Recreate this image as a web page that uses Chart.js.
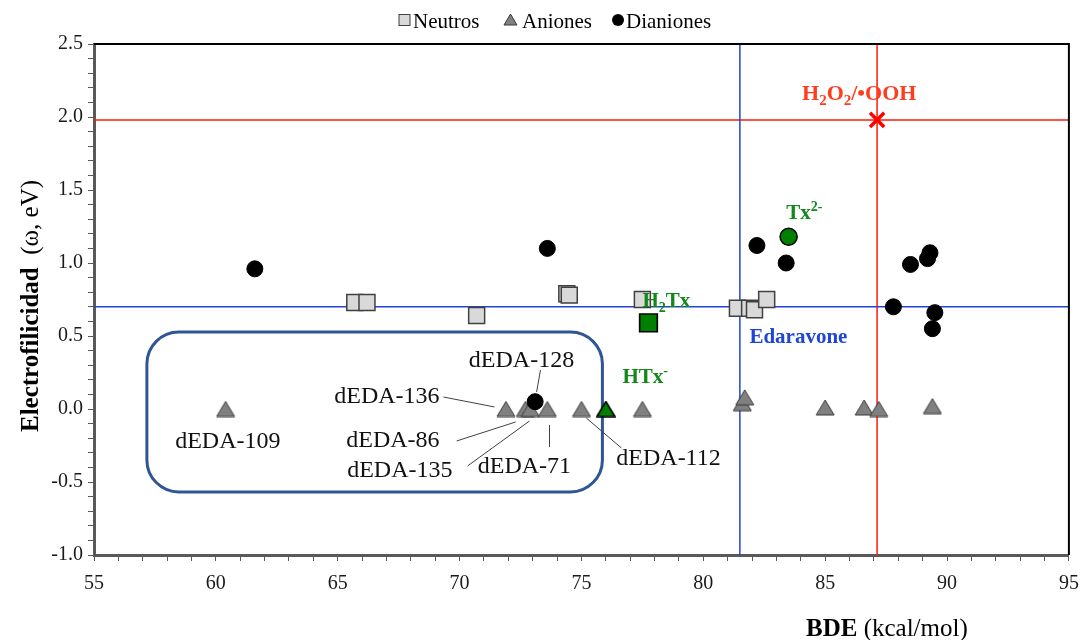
<!DOCTYPE html>
<html>
<head>
<meta charset="utf-8">
<script src="https://cdn.jsdelivr.net/npm/chart.js@4.4.1/dist/chart.umd.min.js"></script>
<style>
  html, body { margin: 0; padding: 0; background: #fff; }
  #wrap { width: 1083px; height: 640px; }
</style>
</head>
<body>
<div id="wrap"><canvas id="chart" width="1083" height="640"></canvas></div>
<script>
// BDE (kcal/mol) e elettrofilicità (eV) per famiglia
const neutrosBDE = [65.7, 66.2, 70.7, 74.4, 74.5, 77.5, 81.4, 81.9, 82.1, 82.6];
const neutrosW   = [0.73, 0.73, 0.64, 0.79, 0.78, 0.75, 0.69, 0.69, 0.68, 0.75];

const anionesBDE = [60.4, 71.9, 72.7, 72.9, 73.6, 75.0, 77.5, 81.6, 81.7, 85.0, 86.6, 87.2, 89.4];
const anionesW   = [0.00, 0.00, 0.00, 0.00, 0.00, 0.00, 0.00, 0.04, 0.08, 0.01, 0.01, 0.00, 0.02];

const dianionesBDE = [61.6, 73.6, 73.1, 82.2, 83.4, 88.5, 89.2, 89.3, 87.8, 89.5, 89.4];
const dianionesW   = [0.96, 1.10, 0.05, 1.12, 1.00, 0.99, 1.03, 1.07, 0.70, 0.66, 0.55];

// Trolox nelle tre forme
const h2txBDE = [77.75], h2txW = [0.59];
const htxBDE  = [76.0],  htxW  = [0.00];
const tx2BDE  = [83.5],  tx2W  = [1.18];

// Riferimenti
const edaravoneBDE = 81.5, edaravoneW = 0.70;
const h2o2BDE = 87.13, h2o2W = 1.98;

const xTickLabels = [55, 60, 65, 70, 75, 80, 85, 90, 95];
const yTickLabels = [-1.0, -0.5, 0.0, 0.5, 1.0, 1.5, 2.0, 2.5];

const FONT = "'Liberation Serif', 'Times New Roman', serif";
const GREEN = '#008000';
const GREEN_TXT = '#12871a';
const BLUE = '#1f45d6';
const RED = '#ff1a0a';

function pts(xs, ys) {
  return xs.map((v, i) => ({ x: v, y: ys[i] }));
}

// triangolo centrato sul suo riquadro (come Excel)
function triangle(fill, stroke, w, h, lw) {
  const c = document.createElement('canvas');
  c.width = w + 2; c.height = h + 2;
  const g = c.getContext('2d');
  g.beginPath();
  g.moveTo(1, h + 1);
  g.lineTo(w + 1, h + 1);
  g.lineTo(w / 2 + 1, 1);
  g.closePath();
  g.fillStyle = fill;
  g.fill();
  g.lineWidth = lw;
  g.strokeStyle = stroke;
  g.stroke();
  return c;
}

const triGray = triangle('#808080', '#3a3a3a', 18, 15, 1);
const triGreen = triangle(GREEN, '#000', 18, 15, 1.6);

// etichette con pedici / apici
const notes = [
  { x: 84.05, y: 2.116, color: '#ff3c1e', size: 22, bold: true,
    runs: [['H', 'n'], ['2', 'sub'], ['O', 'n'], ['2', 'sub'], ['/\u2022OOH', 'n']] },
  { x: 83.4, y: 1.30, color: GREEN_TXT, size: 21, bold: true, runs: [['Tx', 'n'], ['2-', 'sup']] },
  { x: 77.5, y: 0.70, color: GREEN_TXT, size: 21, bold: true, runs: [['H', 'n'], ['2', 'sub'], ['Tx', 'n']] },
  { x: 76.68, y: 0.178, color: GREEN_TXT, size: 21, bold: true, runs: [['HTx', 'n'], ['-', 'sup']] },
  { x: 81.89, y: 0.452, color: BLUE, size: 21, bold: true, runs: [['Edaravone', 'n']] }
];

const dedaLabels = [
  { text: 'dEDA-109', x: 60.49, y: -0.267, align: 'center' },
  { text: 'dEDA-136', x: 69.18, y: 0.041, align: 'right' },
  { text: 'dEDA-86', x: 69.18, y: -0.26, align: 'right' },
  { text: 'dEDA-135', x: 69.71, y: -0.466, align: 'right' },
  { text: 'dEDA-128', x: 72.54, y: 0.288, align: 'center' },
  { text: 'dEDA-71', x: 72.66, y: -0.438, align: 'center' },
  { text: 'dEDA-112', x: 76.43, y: -0.384, align: 'left' }
];

const leaders = [
  [73.32, 0.267, 73.16, 0.116],
  [69.34, 0.082, 71.43, 0.014],
  [69.88, -0.219, 72.30, -0.089],
  [70.33, -0.39, 72.87, -0.082],
  [73.69, -0.26, 73.69, -0.11],
  [75.2, -0.062, 76.64, -0.267]
];

const boxCorners = [57.17, 0.527, 75.86, -0.568];

function drawRuns(ctx, x, y, runs, size, color, bold) {
  let cx = x;
  runs.forEach(([t, kind]) => {
    const s = kind === 'n' ? size : Math.round(size * 0.66);
    const dy = kind === 'sub' ? size * 0.24 : kind === 'sup' ? -size * 0.4 : 0;
    ctx.font = (bold ? 'bold ' : '') + s + 'px ' + FONT;
    ctx.fillStyle = color;
    ctx.textAlign = 'left';
    ctx.textBaseline = 'alphabetic';
    ctx.fillText(t, cx, y + dy);
    cx += ctx.measureText(t).width;
  });
}

const extras = {
  id: 'extras',
  beforeDatasetsDraw(chart) {
    const { ctx, scales: { x, y } } = chart;
    const px = v => x.getPixelForValue(v);
    const py = v => y.getPixelForValue(v);
    ctx.save();

    // riquadro arrotondato dei dEDA
    const l = px(boxCorners[0]), t = py(boxCorners[1]);
    const r = px(boxCorners[2]), b = py(boxCorners[3]);
    const rad = 32;
    ctx.beginPath();
    ctx.moveTo(l + rad, t);
    ctx.arcTo(r, t, r, b, rad);
    ctx.arcTo(r, b, l, b, rad);
    ctx.arcTo(l, b, l, t, rad);
    ctx.arcTo(l, t, r, t, rad);
    ctx.closePath();
    ctx.lineWidth = 3;
    ctx.strokeStyle = '#2f5597';
    ctx.stroke();

    // linee guida
    ctx.lineWidth = 1;
    ctx.strokeStyle = '#404040';
    leaders.forEach(([x1, y1, x2, y2]) => {
      ctx.beginPath();
      ctx.moveTo(px(x1), py(y1));
      ctx.lineTo(px(x2), py(y2));
      ctx.stroke();
    });

    ctx.font = '24px ' + FONT;
    ctx.fillStyle = '#111';
    ctx.textBaseline = 'alphabetic';
    dedaLabels.forEach(d => {
      ctx.textAlign = d.align;
      ctx.fillText(d.text, px(d.x), py(d.y));
    });
    ctx.restore();
  },
  afterDraw(chart) {
    const { ctx, chartArea: a, scales: { x, y } } = chart;
    const px = v => x.getPixelForValue(v);
    const py = v => y.getPixelForValue(v);
    ctx.save();

    // cornice superiore e destra
    ctx.strokeStyle = '#000';
    ctx.lineWidth = 2;
    ctx.beginPath();
    ctx.moveTo(a.left, a.top);
    ctx.lineTo(a.right, a.top);
    ctx.lineTo(a.right, a.bottom);
    ctx.stroke();

    notes.forEach(n => drawRuns(ctx, px(n.x), py(n.y), n.runs, n.size, n.color, n.bold));

    // titoli degli assi
    ctx.save();
    ctx.translate(38, 306);
    ctx.rotate(-Math.PI / 2);
    ctx.font = 'bold 25px ' + FONT;
    const w1 = ctx.measureText('Electrofilicidad').width;
    ctx.font = '25px ' + FONT;
    const w2 = ctx.measureText('  (\u03C9, eV)').width;
    drawRuns(ctx, -(w1 + w2) / 2, 0, [['Electrofilicidad', 'n']], 25, '#000', true);
    drawRuns(ctx, -(w1 + w2) / 2 + w1, 0, [['  (\u03C9, eV)', 'n']], 25, '#000', false);
    ctx.restore();

    drawRuns(ctx, 806, 636, [['BDE', 'n']], 25, '#000', true);
    ctx.font = 'bold 25px ' + FONT;
    const wb = ctx.measureText('BDE').width;
    drawRuns(ctx, 806 + wb, 636, [[' (kcal/mol)', 'n']], 25, '#000', false);

    // legenda
    const ly = 20;
    ctx.lineWidth = 1;
    ctx.fillStyle = '#d9d9d9';
    ctx.strokeStyle = '#404040';
    ctx.fillRect(399, ly - 5.5, 11, 11);
    ctx.strokeRect(399, ly - 5.5, 11, 11);
    ctx.drawImage(triangle('#808080', '#3a3a3a', 13, 11, 1), 503, ly - 7);
    ctx.beginPath();
    ctx.arc(618, ly, 6, 0, Math.PI * 2);
    ctx.fillStyle = '#000';
    ctx.fill();
    ctx.font = '21px ' + FONT;
    ctx.fillStyle = '#000';
    ctx.textAlign = 'left';
    ctx.textBaseline = 'alphabetic';
    ctx.fillText('Neutros', 413, 28);
    ctx.fillText('Aniones', 522, 28);
    ctx.fillText('Dianiones', 626, 28);
    ctx.restore();
  }
};

function refLine(data, color) {
  return {
    type: 'line', data, showLine: true, borderColor: color, borderWidth: 1.5,
    pointRadius: 0, fill: false, order: 10
  };
}

new Chart(document.getElementById('chart'), {
  type: 'scatter',
  data: {
    datasets: [
      refLine([{ x: 55, y: edaravoneW }, { x: 95, y: edaravoneW }], BLUE),
      refLine([{ x: edaravoneBDE, y: -1 }, { x: edaravoneBDE, y: 2.5 }], BLUE),
      refLine([{ x: 55, y: h2o2W }, { x: 95, y: h2o2W }], RED),
      refLine([{ x: h2o2BDE, y: -1 }, { x: h2o2BDE, y: 2.5 }], RED),
      {
        label: 'Neutros', data: pts(neutrosBDE, neutrosW), pointStyle: 'rect',
        pointRadius: 11.3, backgroundColor: '#d9d9d9', borderColor: '#404040', borderWidth: 1.5, order: 3
      },
      {
        label: 'Aniones', data: pts(anionesBDE, anionesW), pointStyle: triGray,
        pointRadius: 10, order: 2
      },
      {
        label: 'Dianiones', data: pts(dianionesBDE, dianionesW), pointStyle: 'circle',
        pointRadius: 8, backgroundColor: '#000', borderColor: '#000', borderWidth: 1, order: 1
      },
      {
        label: 'H2Tx', data: pts(h2txBDE, h2txW), pointStyle: 'rect',
        pointRadius: 12.5, backgroundColor: GREEN, borderColor: '#000', borderWidth: 1.6, order: 0
      },
      {
        label: 'HTx-', data: pts(htxBDE, htxW), pointStyle: triGreen, pointRadius: 10, order: 0
      },
      {
        label: 'Tx2-', data: pts(tx2BDE, tx2W), pointStyle: 'circle',
        pointRadius: 8.5, backgroundColor: GREEN, borderColor: '#000', borderWidth: 1.6, order: 0
      },
      {
        label: 'H2O2/OOH', data: [{ x: h2o2BDE, y: h2o2W }], pointStyle: 'crossRot',
        pointRadius: 10, borderColor: '#ff0000', borderWidth: 3.5, order: 0
      }
    ]
  },
  options: {
    responsive: false,
    animation: false,
    layout: { padding: { top: 44, right: 11, left: 0, bottom: 0 } },
    plugins: { legend: { display: false }, tooltip: { enabled: false } },
    scales: {
      x: {
        type: 'linear', min: 55, max: 95,
        afterFit: s => { s.height = 85; s.paddingRight = 0; s.paddingLeft = 0; },
        border: { color: '#595959', width: 3 },
        grid: { drawOnChartArea: false, drawTicks: true, tickLength: 6, color: '#595959' },
        ticks: {
          stepSize: 1, autoSkip: false, maxRotation: 0, padding: 11,
          color: '#1a1a1a', font: { family: FONT, size: 20 },
          callback: v => xTickLabels.includes(Math.round(v)) && Math.abs(v - Math.round(v)) < 1e-6 ? String(Math.round(v)) : ''
        }
      },
      y: {
        type: 'linear', min: -1, max: 2.5,
        afterFit: s => { s.width = 94; s.paddingTop = 0; s.paddingBottom = 0; },
        border: { color: '#595959', width: 3 },
        grid: { drawOnChartArea: false, drawTicks: true, tickLength: 6, color: '#595959' },
        ticks: {
          stepSize: 0.1, autoSkip: false, padding: 5,
          color: '#1a1a1a', font: { family: FONT, size: 20 },
          callback: v => {
            const r = Math.round(v * 10) / 10;
            if (!yTickLabels.some(t => Math.abs(t - r) < 1e-6)) return '';
            return Math.abs(r) < 1e-9 ? '0.0' : r.toFixed(1);
          }
        }
      }
    }
  },
  plugins: [extras]
});
</script>
</body>
</html>
